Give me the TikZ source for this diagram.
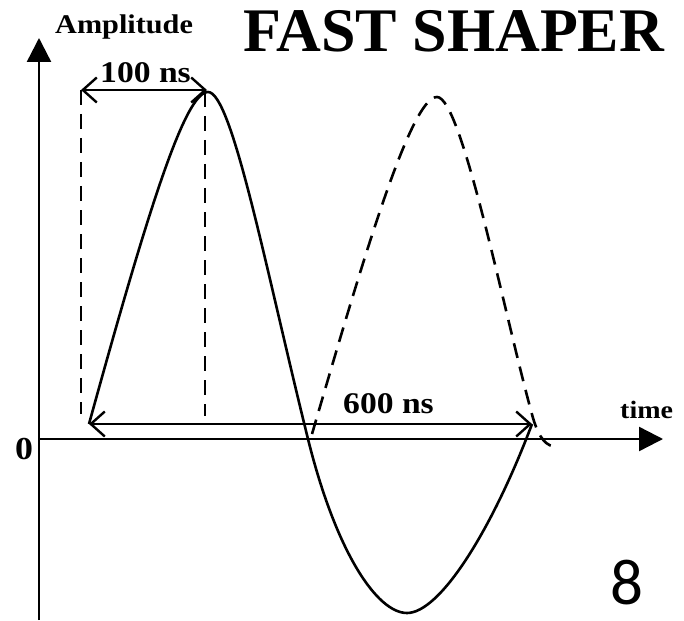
\documentclass[tikz,border=0pt]{standalone}
\usepackage{fontspec}
\setmainfont{Liberation Serif}
\newfontfamily\etire[FakeStretch=1.12]{Liberation Serif}
\newfontfamily\chiffre{Carlito}
\usetikzlibrary{arrows.meta}
\tikzset{
  axe/.style={line width=2.4pt, -{Triangle[length=24pt,width=24pt]}},
  cote/.style={line width=2.4pt,
               {Straight Barb[length=14pt,width=25pt]}-{Straight Barb[length=14pt,width=25pt]}},
  tiret/.style={line width=2.6pt, dash pattern=on 15pt off 9pt},
  courbe/.style={line width=2.6pt},
  lbl/.style={anchor=base west, inner sep=0pt, font=#1},
}
\begin{document}
\begin{tikzpicture}[x=1pt, y=-1pt]
  \useasboundingbox (0,0) rectangle (684,620);
  % axes
  \coordinate (ybas) at (39,620);
  \coordinate (yhaut) at (39,38);
  \coordinate (o) at (39,439);
  \coordinate (xfin) at (663,439);
  \draw[axe] (ybas) -- (yhaut);
  \draw[axe] (o) -- (xfin);
  % cotes
  \coordinate (d1) at (81,90);
  \coordinate (d2) at (207,90);
  \coordinate (g1) at (89,424);
  \coordinate (g2) at (532,424);
  \coordinate (t1) at (81,414);
  \coordinate (t2) at (205,92);
  \coordinate (t3) at (205,416);
  \draw[tiret] (d1) -- (t1);
  \draw[tiret] (t2) -- (t3);
  \draw[cote] (d1) -- (d2);
  \draw[cote] (g1) -- (g2);
  % signal
  \coordinate (sommet) at (208,92);
  \coordinate (zero1) at (308,439);
  \coordinate (creux) at (407,613);
  \draw[courbe] (g1) .. controls (148,210) and (185,92) .. (sommet)
    .. controls (232,92) and (266,270) .. (zero1)
    .. controls (336,552) and (377,613) .. (creux)
    .. controls (440,613) and (492,530) .. (g2);
  % signal suivant
  \coordinate (depart) at (312,434);
  \coordinate (sommet2) at (437,97);
  \coordinate (bas2) at (533,418);
  \coordinate (fin2) at (558,447);
  \draw[tiret] (depart) .. controls (360,270) and (410,97) .. (sommet2)
    .. controls (462,97) and (505,318) .. (bas2)
    .. controls (539,438) and (546,447) .. (fin2);
  % textes
  \node[lbl={\etire\bfseries\fontsize{27}{27}\selectfont}] (ampl) at (55,34) {Amplitude};
  \node[lbl={\bfseries\fontsize{62}{62}\selectfont}] (titre) at (243,52) {FAST SHAPER};
  \node[lbl={\etire\bfseries\fontsize{30}{30}\selectfont}] (cent) at (100,83) {100 ns};
  \node[lbl={\etire\bfseries\fontsize{30}{30}\selectfont}] (six) at (343,413) {600 ns};
  \node[lbl={\etire\bfseries\fontsize{25}{25}\selectfont}] (temps) at (620,418) {time};
  \node[lbl={\etire\bfseries\fontsize{32}{32}\selectfont}] (zero) at (15,459) {0};
  \node[lbl={\chiffre\fontsize{65}{65}\selectfont}] (num) at (610,604) {8};
\end{tikzpicture}
\end{document}
